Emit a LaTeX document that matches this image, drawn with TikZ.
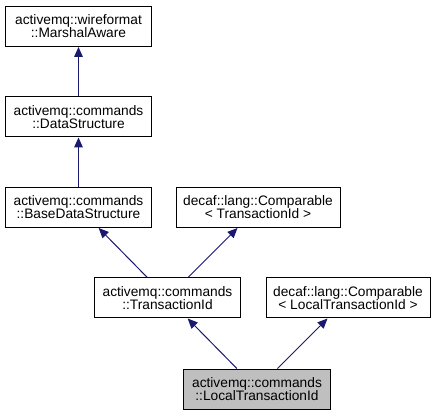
\documentclass[tikz,border=0pt]{standalone}
\usepackage{fontspec}
\setmainfont{Liberation Sans}
\usetikzlibrary{arrows.meta}
\definecolor{edgeblue}{RGB}{25,25,112}
\definecolor{selfgray}{RGB}{191,191,191}
\begin{document}
\begin{tikzpicture}[x=0.75pt, y=-0.75pt,
  cls/.style={draw, line width=0.75pt, align=center, inner sep=0pt,
    minimum height=30pt, font=\fontsize{10.3pt}{9.8pt}\selectfont},
  inh/.style={draw=edgeblue, line width=0.75pt,
    -{Triangle[length=7.5pt, width=6.5pt, fill=edgeblue]}}]
\useasboundingbox (0,0) rectangle (435,416);
\node [cls, minimum width=110pt] (marshal) at (78.5, 26.5) {activemq::wireformat\\::MarshalAware};
\node [cls, minimum width=110pt] (data) at (78.5, 117) {activemq::commands\\::DataStructure};
\node [cls, minimum width=110pt] (base) at (78.5, 207.5) {activemq::commands\\::BaseDataStructure};
\node [cls, minimum width=123pt] (cmptid) at (258, 207.5) {decaf::lang::Comparable\\< TransactionId >};
\node [cls, minimum width=110pt] (tid) at (167.5, 298) {activemq::commands\\::TransactionId};
\node [cls, minimum width=123pt] (cmplocal) at (348, 298) {decaf::lang::Comparable\\< LocalTransactionId >};
\node [cls, minimum width=110pt, fill=selfgray] (local) at (257, 389) {activemq::commands\\::LocalTransactionId};
\draw[inh] (data) -- (marshal);
\draw[inh] (base) -- (data);
\draw[inh] (tid) -- (base);
\draw[inh] (tid) -- (cmptid);
\draw[inh] (local) -- (tid);
\draw[inh] (local) -- (cmplocal);
\end{tikzpicture}
\end{document}
